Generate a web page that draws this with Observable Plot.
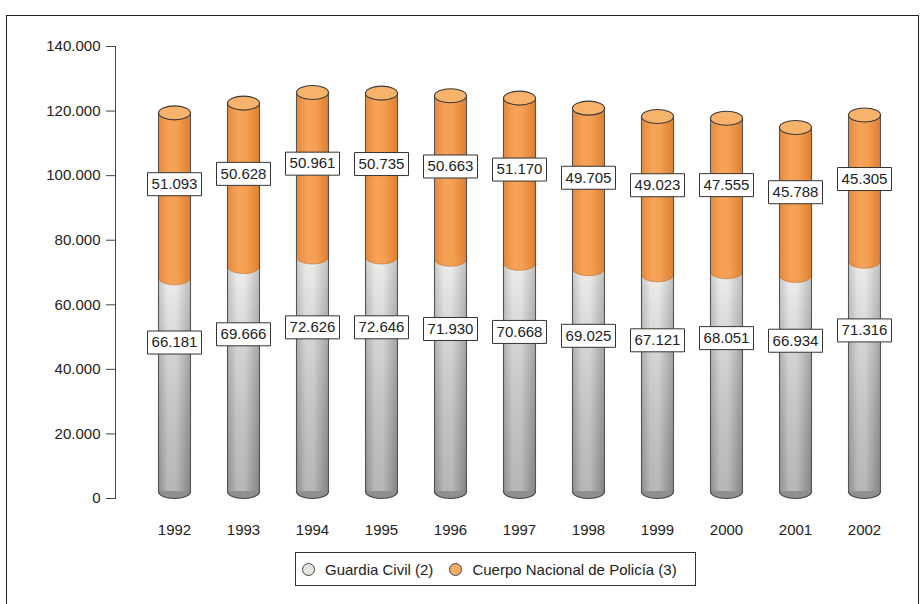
<!DOCTYPE html>
<html>
<head>
<meta charset="utf-8">
<script src="https://cdn.jsdelivr.net/npm/d3@7"></script>
<script src="https://cdn.jsdelivr.net/npm/@observablehq/plot@0.6"></script>
<style>
  html, body { margin: 0; padding: 0; background: #fff; }
  body { width: 923px; height: 604px; position: relative; overflow: hidden; font-family: "Liberation Sans", Arial, sans-serif; }
  #frame { position: absolute; left: 6px; top: 15px; width: 913px; height: 600px; border: 1.5px solid #222; box-sizing: border-box; }
  #chart { position: absolute; left: 0; top: 0; }
  #legend { position: absolute; left: 295px; top: 552px; width: 401px; height: 34px; border: 1.3px solid #333; box-sizing: border-box;
            display: flex; align-items: center; font-size: 15px; color: #222; padding-left: 6px; white-space: nowrap; }
  .sw { display: inline-block; flex: none; width: 13px; height: 13px; border-radius: 50%; border: 1px solid #444; box-sizing: border-box; margin-right: 10px; }
  .item { display: flex; flex: none; align-items: center; margin-right: 16px; white-space: nowrap; }
</style>
</head>
<body>
<div id="frame"></div>
<div id="chart"></div>
<div id="legend"></div>
<script>
const years = ["1992","1993","1994","1995","1996","1997","1998","1999","2000","2001","2002"];
const guardiaCivil = [66181, 69666, 72626, 72646, 71930, 70668, 69025, 67121, 68051, 66934, 71316];
const policia = [51093, 50628, 50961, 50735, 50663, 51170, 49705, 49023, 47555, 45788, 45305];
const yTicks = [0, 20000, 40000, 60000, 80000, 100000, 120000, 140000];
const seriesNames = ["Guardia Civil (2)", "Cuerpo Nacional de Policía (3)"];

const locale = d3.formatLocale({decimal: ",", thousands: ".", grouping: [3], currency: ["", "€"]});
const fmt = locale.format(",");

const data = years.map((y, i) => ({
  year: y, gc: guardiaCivil[i], cnp: policia[i], total: guardiaCivil[i] + policia[i],
  gcLabelY: guardiaCivil[i] * 0.73,
  cnpLabelY: guardiaCivil[i] + policia[i] * 0.61
}));

const RX = 16, RY = 7;
const kk = 0.5523;
const ellipse = { draw(ctx) {
  const rx = RX, ry = RY;
  ctx.moveTo(rx, 0);
  ctx.bezierCurveTo(rx, ry * kk, rx * kk, ry, 0, ry);
  ctx.bezierCurveTo(-rx * kk, ry, -rx, ry * kk, -rx, 0);
  ctx.bezierCurveTo(-rx, -ry * kk, -rx * kk, -ry, 0, -ry);
  ctx.bezierCurveTo(rx * kk, -ry, rx, -ry * kk, rx, 0);
  ctx.closePath();
}};
const box = { draw(ctx) { ctx.rect(-27, -11.5, 54, 23); } };

const plot = Plot.plot({
  width: 923,
  height: 545,
  marginLeft: 115,
  marginRight: 0,
  marginTop: 46,
  marginBottom: 47,
  style: { fontFamily: "Liberation Sans, Arial, sans-serif", fontSize: "15px", color: "#222", background: "transparent" },
  x: { domain: years, padding: 0.543, label: null },
  y: { domain: [0, 140000], label: null },
  marks: [
    Plot.axisY({ ticks: yTicks, tickFormat: fmt, tickSize: 9, tickPadding: 6, stroke: "#444", fontSize: 15 }),
    Plot.frame({ anchor: "left", stroke: "#444" }),
    Plot.axisX({ tickSize: 0, tickPadding: 26, fontSize: 15 }),
    Plot.dot(data, { x: "year", y: 0, dy: -RY, symbol: ellipse, r: 16, fill: "#8f8f8d", stroke: "#444", strokeWidth: 1.2 }),
    Plot.barY(data, { x: "year", y1: 0, y2: "gc", dy: -RY, fill: "url(#grayH)" }),
    Plot.barY(data, { x: "year", y1: 0, y2: "gc", dy: -RY, fill: "url(#grayV)" }),
    Plot.dot(data, { x: "year", y: "gc", dy: -RY, symbol: ellipse, r: 16, fill: "url(#orH)", stroke: "#c06c28", strokeWidth: 0.6 }),
    Plot.barY(data, { x: "year", y1: "gc", y2: "total", dy: -RY, fill: "url(#orH)" }),
    Plot.ruleX(data, { x: "year", y1: 0, y2: "total", dy: -RY, dx: -RX, stroke: "#555", strokeWidth: 1.1 }),
    Plot.ruleX(data, { x: "year", y1: 0, y2: "total", dy: -RY, dx: RX, stroke: "#555", strokeWidth: 1.1 }),
    Plot.dot(data, { x: "year", y: "total", dy: -RY, symbol: ellipse, r: 16, fill: "#f7b26c", stroke: "#3a3a3a", strokeWidth: 1.1 }),
    Plot.dot(data, { x: "year", y: "gcLabelY", symbol: box, r: 10, fill: "#fff", stroke: "#333", strokeWidth: 1 }),
    Plot.dot(data, { x: "year", y: "cnpLabelY", symbol: box, r: 10, fill: "#fff", stroke: "#333", strokeWidth: 1 }),
    Plot.text(data, { x: "year", y: "gcLabelY", text: d => fmt(d.gc), fontSize: 15, fill: "#222" }),
    Plot.text(data, { x: "year", y: "cnpLabelY", text: d => fmt(d.cnp), fontSize: 15, fill: "#222" })
  ]
});

plot.insertAdjacentHTML("afterbegin", `
<defs>
  <linearGradient id="grayH" x1="0" x2="1" y1="0" y2="0">
    <stop offset="0%" stop-color="#b0b0ae"/>
    <stop offset="30%" stop-color="#e4e4e2"/>
    <stop offset="55%" stop-color="#e6e6e4"/>
    <stop offset="100%" stop-color="#a6a6a4"/>
  </linearGradient>
  <linearGradient id="grayV" x1="0" x2="0" y1="0" y2="1">
    <stop offset="0%" stop-color="#fff" stop-opacity="0.3"/>
    <stop offset="100%" stop-color="#000" stop-opacity="0.2"/>
  </linearGradient>
  <linearGradient id="orH" x1="0" x2="1" y1="0" y2="0">
    <stop offset="0%" stop-color="#e5883a"/>
    <stop offset="35%" stop-color="#f6a35a"/>
    <stop offset="60%" stop-color="#f49f52"/>
    <stop offset="100%" stop-color="#df8030"/>
  </linearGradient>
</defs>`);

document.getElementById("chart").appendChild(plot);

const colors = ["#e4e4df", "#f6ae62"];
const legend = document.getElementById("legend");
seriesNames.forEach((n, i) => {
  const it = document.createElement("span");
  it.className = "item";
  it.innerHTML = `<span class="sw" style="background:${colors[i]}"></span><span>${n}</span>`;
  legend.appendChild(it);
});
</script>
</body>
</html>
